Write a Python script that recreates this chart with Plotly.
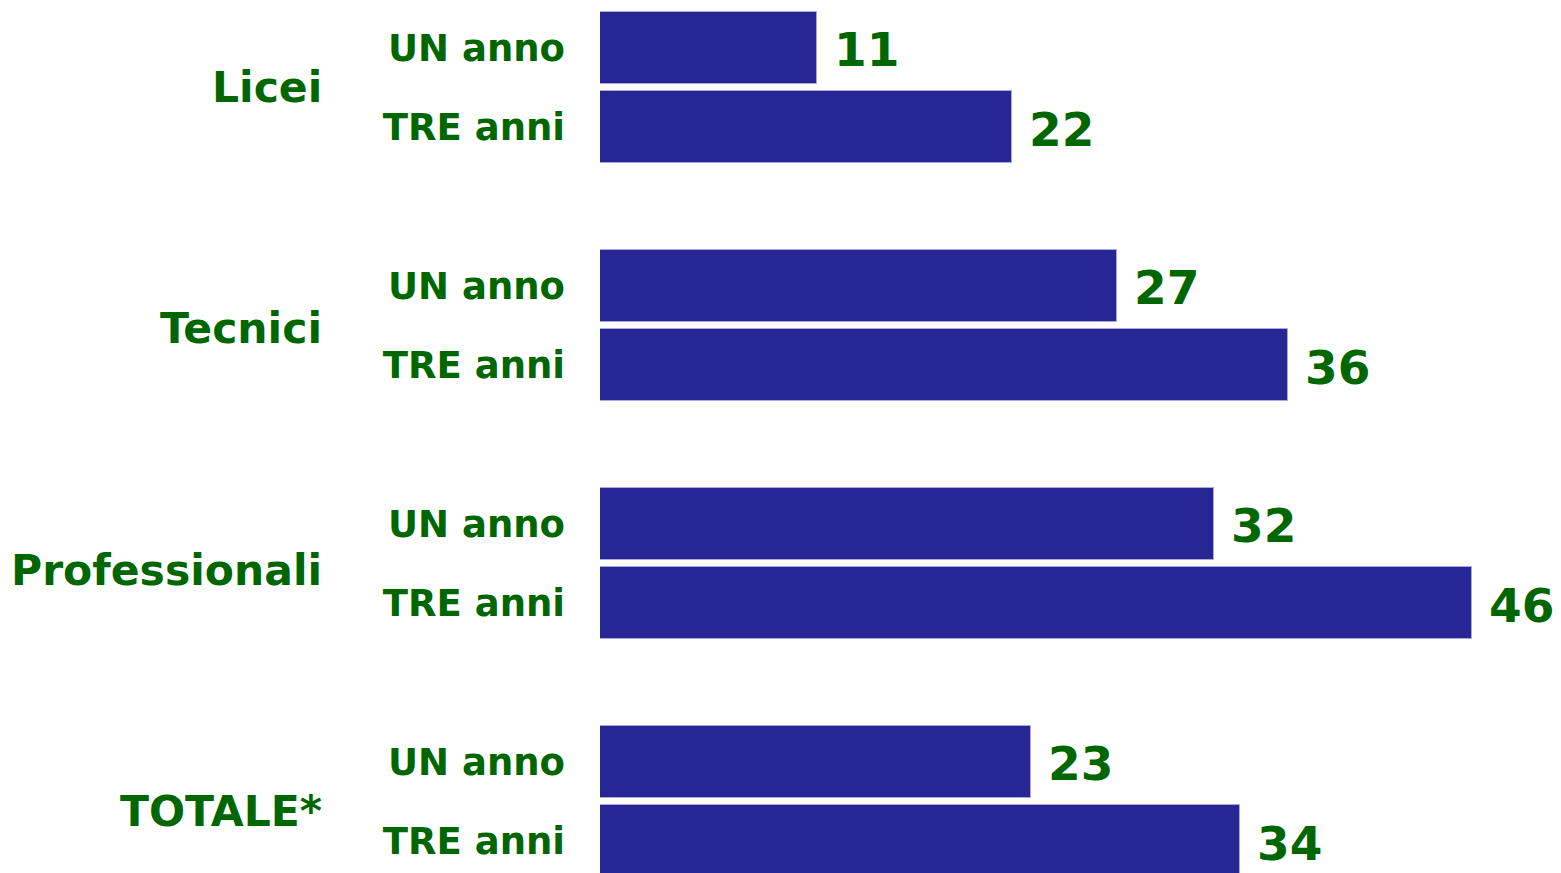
import plotly.graph_objects as go

categories = ["Licei", "Tecnici", "Professionali", "TOTALE*"]
series_names = ["UN anno", "TRE anni"]
# values; labels show them rounded
un_anno = [11.4, 27.2, 32.3, 22.7]
tre_anni = [21.7, 36.2, 45.9, 33.7]

BAR_COLOR = "#262694"
TEXT_COLOR = "#006600"
FONT = "DejaVu Sans"

GROUP_STEP = 3.0  # each group: two bars plus one-bar gap

series_values = [un_anno, tre_anni]
fig = go.Figure()
tickvals, ticktext = [], []
for s, (name, vals) in enumerate(zip(series_names, series_values)):
    ys = [g * GROUP_STEP + s for g in range(len(categories))]
    tickvals += ys
    ticktext += [name] * len(ys)
    fig.add_trace(go.Bar(
        x=vals, y=ys, orientation="h", name=name,
        width=0.908,
        marker=dict(color=BAR_COLOR, line=dict(color="#a8a8dc", width=1)),
        showlegend=False, hoverinfo="skip",
    ))
    for v, y in zip(vals, ys):
        fig.add_annotation(
            x=v, y=y, xref="x", yref="y", text=f"{v:.0f}", showarrow=False,
            xanchor="left", yanchor="middle", xshift=15, yshift=-2,
            font=dict(family=FONT, size=47, color=TEXT_COLOR, weight="bold"),
        )

for g, cat in enumerate(categories):
    fig.add_annotation(
        x=0, y=g * GROUP_STEP + 0.5, xref="paper", yref="y", text=cat,
        showarrow=False, xanchor="right", yanchor="middle", xshift=-276,
        yshift=-3.3 * g,
        font=dict(family=FONT, size=42.5, color=TEXT_COLOR, weight="bold"),
    )

fig.update_layout(
    width=1561, height=873,
    margin=dict(l=600, r=0, t=0, b=0),
    plot_bgcolor="white", paper_bgcolor="white",
    bargap=0,
    xaxis=dict(range=[0, 50.58], visible=False, showgrid=False, zeroline=False),
    yaxis=dict(
        range=[10.40, -0.605], tickvals=tickvals, ticktext=ticktext,
        showgrid=False, zeroline=False, showline=False,
        ticks="", ticklabelstandoff=34,
        tickfont=dict(family=FONT, size=37, color=TEXT_COLOR, weight="bold"),
    ),
)

fig.write_html(
    "out.html",
    config={"displayModeBar": False},
    post_script="document.body.style.margin='0';document.body.style.overflow='hidden';",
)
